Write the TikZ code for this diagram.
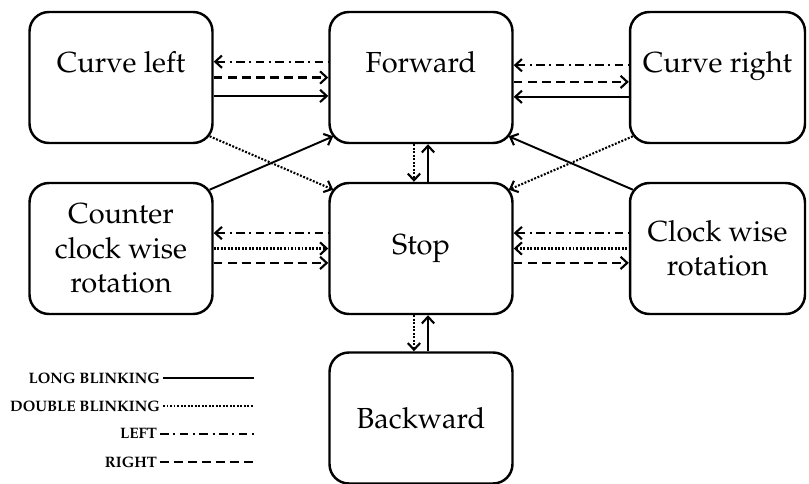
\documentclass[tikz,border=0pt]{standalone}
\usepackage[T1]{fontenc}
\usepackage{mathpazo}
\usetikzlibrary{arrows.meta}
\begin{document}
\begin{tikzpicture}[x=0.02cm,y=-0.02cm,line join=round,
  >={Straight Barb[length=3.8pt,width=7pt,line width=1.2pt]},
  box/.style={draw,line width=1.4pt,rounded corners=11pt,minimum width=3.66cm,minimum height=2.62cm,
    align=center,inner sep=0pt,font=\fontsize{16.5}{19.6}\selectfont},
  toprow/.style={text height=11pt,text depth=17pt},
  longblink/.style={line width=1.1pt},
  doubleblink/.style={line width=1.2pt,dash pattern=on 1.1pt off 0.9pt},
  leftsig/.style={line width=1.2pt,dash pattern=on 5pt off 2.5pt on 1.2pt off 2.5pt},
  rightsig/.style={line width=1.2pt,dash pattern=on 5pt off 3pt},
  legend/.style={font=\fontsize{8.6}{10}\selectfont\bfseries,inner sep=1.5pt,anchor=east}]
  \useasboundingbox (0,0) rectangle (809,484);
  % states
  \node[box,toprow] (cl) at (121,77.5) {Curve left};
  \node[box,toprow] (fw) at (421,77.5) {Forward};
  \node[box,toprow,minimum width=3.5cm] (cr) at (717.5,77.5) {Curve right};
  \node[box] (ccw) at (121,248.5) {Counter\\clock wise\\rotation};
  \node[box] (stop) at (421,248.5) {Stop};
  \node[box,minimum width=3.5cm] (cw) at (717.5,248.5) {Clock wise\\rotation};
  \node[box] (bw) at (421,418) {Backward};
  % top row
  \draw[leftsig,<-] ([yshift=9pt]cl.east) -- ([yshift=9pt]fw.west);
  \draw[rightsig,->] (cl.east) -- (fw.west);
  \draw[longblink,->] ([yshift=-10.5pt]cl.east) -- ([yshift=-10.5pt]fw.west);
  \draw[leftsig,<-] ([yshift=7pt]fw.east) -- ([yshift=7pt]cr.west);
  \draw[rightsig,->] ([yshift=-2.5pt]fw.east) -- ([yshift=-2.5pt]cr.west);
  \draw[longblink,<-] ([yshift=-11pt]fw.east) -- ([yshift=-11pt]cr.west);
  % middle row
  \draw[leftsig,<-] ([yshift=8.8pt]ccw.east) -- ([yshift=8.8pt]stop.west);
  \draw[doubleblink,->] (ccw.east) -- (stop.west);
  \draw[rightsig,->] ([yshift=-8.2pt]ccw.east) -- ([yshift=-8.2pt]stop.west);
  \draw[leftsig,<-] ([yshift=8.8pt]stop.east) -- ([yshift=8.8pt]cw.west);
  \draw[doubleblink,<-] (stop.east) -- (cw.west);
  \draw[rightsig,->] ([yshift=-8.2pt]stop.east) -- ([yshift=-8.2pt]cw.west);
  % vertical
  \draw[doubleblink,->] ([xshift=-4pt]fw.south) -- ([xshift=-4pt]stop.north);
  \draw[longblink,<-] ([xshift=4pt]fw.south) -- ([xshift=4pt]stop.north);
  \draw[doubleblink,->] ([xshift=-4pt]stop.south) -- ([xshift=-4pt]bw.north);
  \draw[longblink,<-] ([xshift=4pt]stop.south) -- ([xshift=4pt]bw.north);
  % diagonals
  \draw[doubleblink,->] ([xshift=-2.3pt,yshift=4.5pt]cl.south east) -- ([xshift=2.8pt,yshift=-4.5pt]stop.north west);
  \draw[longblink,->] ([xshift=-2.3pt,yshift=-4.5pt]ccw.north east) -- ([xshift=2.8pt,yshift=4.5pt]fw.south west);
  \draw[longblink,->] ([xshift=2.3pt,yshift=-4.5pt]cw.north west) -- ([xshift=-2.8pt,yshift=4.5pt]fw.south east);
  \draw[doubleblink,->] ([xshift=2.3pt,yshift=4.5pt]cr.south west) -- ([xshift=-2.8pt,yshift=-4.5pt]stop.north east);
  % legend
  \node[legend] (long) at (163,378) {LONG BLINKING};
  \node[legend] (double) at (163,406) {DOUBLE BLINKING};
  \node[legend] (left) at (160,434) {LEFT};
  \node[legend] (right) at (160,462) {RIGHT};
  \coordinate (longend) at (254,378);
  \coordinate (doubleend) at (254,406);
  \coordinate (leftend) at (254,434);
  \coordinate (rightend) at (254,462);
  \draw[longblink] (long.east) -- (longend);
  \draw[doubleblink] (double.east) -- (doubleend);
  \draw[leftsig] (left.east) -- (leftend);
  \draw[rightsig] (right.east) -- (rightend);
\end{tikzpicture}
\end{document}
